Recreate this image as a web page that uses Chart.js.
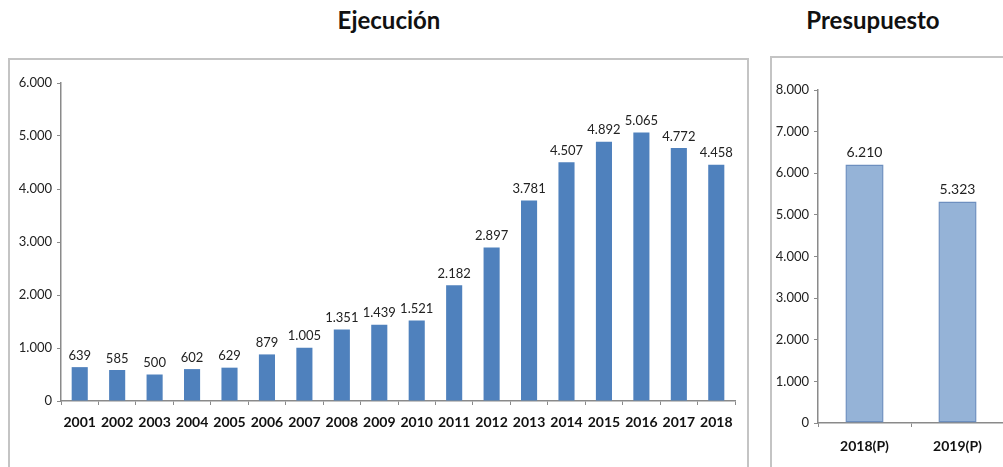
<!DOCTYPE html>
<html lang="es">
<head>
  <meta charset="UTF-8">
  <title>Ejecución y Presupuesto</title>
  <style>
    body { margin: 0; background: #fff; width: 1003px; height: 467px; overflow: hidden; position: relative; font-family: Lato, 'Open Sans', sans-serif; }
    .title { position: absolute; top: 5px; font-weight: bold; font-size: 24px; color: #111; text-align: center; }
    .box { position: absolute; border: 2px solid #c4c4c4; box-sizing: border-box; }
    canvas { position: absolute; }
  </style>
</head>
<body>
  <div class="title" style="left:289px; width:200px;">Ejecución</div>
  <div class="title" style="left:773px; width:200px;">Presupuesto</div>
  <div class="box" style="left:8px; top:58px; width:741px; height:420px;"></div>
  <div class="box" style="left:770px; top:56px; width:240px; height:420px;"></div>
  <canvas id="ejec" width="738" height="408" style="left:9px; top:59px;"></canvas>
  <canvas id="pres" width="233" height="410" style="left:771px; top:57px;"></canvas>

  <script src="https://cdn.jsdelivr.net/npm/chart.js"></script>
  <script>
    const years = ['2001', '2002', '2003', '2004', '2005', '2006', '2007', '2008', '2009', '2010', '2011', '2012', '2013', '2014', '2015', '2016', '2017', '2018'];
    const ejecucion = [639, 585, 500, 602, 629, 879, 1005, 1351, 1439, 1521, 2182, 2897, 3781, 4507, 4892, 5065, 4772, 4458];
    const presYears = ['2018(P)', '2019(P)'];
    const presupuesto = [6210, 5323];

    const fmt = (v) => String(Math.round(v)).replace(/\B(?=(\d{3})+(?!\d))/g, '.');

    // etiquetas de valor encima de cada barra
    const valueLabels = {
      id: 'valueLabels',
      afterDatasetsDraw(chart, args, opts) {
        const ctx = chart.ctx;
        const meta = chart.getDatasetMeta(0);
        ctx.save();
        ctx.font = opts.font;
        ctx.fillStyle = '#222';
        ctx.textAlign = 'center';
        ctx.textBaseline = 'bottom';
        meta.data.forEach((bar, i) => {
          ctx.fillText(fmt(chart.data.datasets[0].data[i]), bar.x, bar.y - opts.gap);
        });
        ctx.restore();
      }
    };

    function makeChart(id, labels, data, cfg) {
      return new Chart(document.getElementById(id), {
        type: 'bar',
        data: {
          labels: labels,
          datasets: [{
            data: data,
            backgroundColor: cfg.fill,
            borderColor: cfg.border,
            borderWidth: cfg.borderWidth,
            borderSkipped: false,
            barPercentage: cfg.barPct,
            categoryPercentage: 1
          }]
        },
        options: {
          responsive: false,
          animation: false,
          layout: { padding: { top: cfg.top, right: cfg.right, left: 0, bottom: 0 } },
          plugins: {
            legend: { display: false },
            tooltip: { enabled: false },
            valueLabels: { font: cfg.labelFont, gap: 5 }
          },
          scales: {
            x: {
              afterFit: (s) => { s.height = cfg.xHeight; },
              grid: { drawOnChartArea: false, drawTicks: true, tickLength: 4, color: '#8a8a8a', offset: true },
              border: { color: '#8a8a8a', width: 1.5 },
              ticks: { color: '#111', padding: cfg.xPad, autoSkip: false, minRotation: 0, maxRotation: 0, font: { family: 'Lato', size: 14, weight: 'bold' } }
            },
            y: {
              min: 0,
              max: cfg.max,
              afterFit: (s) => { s.width = cfg.yWidth; },
              grid: { drawOnChartArea: false, drawTicks: true, tickLength: 4, color: '#8a8a8a' },
              border: { color: '#8a8a8a', width: 1.5 },
              ticks: { stepSize: 1000, color: '#222', padding: 5, font: { family: 'Lato', size: 13 }, callback: (v) => fmt(v) }
            }
          }
        },
        plugins: [valueLabels]
      });
    }

    makeChart('ejec', years, ejecucion, {
      fill: '#4f81bd', border: '#4f81bd', borderWidth: 0, barPct: 0.43, xPad: 9,
      top: 24, right: 12, xHeight: 66, yWidth: 52, max: 6000, labelFont: '13px Lato'
    });

    makeChart('pres', presYears, presupuesto, {
      fill: '#95b3d7', border: '#6d8fbf', borderWidth: 1.5, barPct: 0.41, xPad: 11,
      top: 33, right: 0, xHeight: 44, yWidth: 47, max: 8000, labelFont: '14px Lato'
    });
  </script>
</body>
</html>
